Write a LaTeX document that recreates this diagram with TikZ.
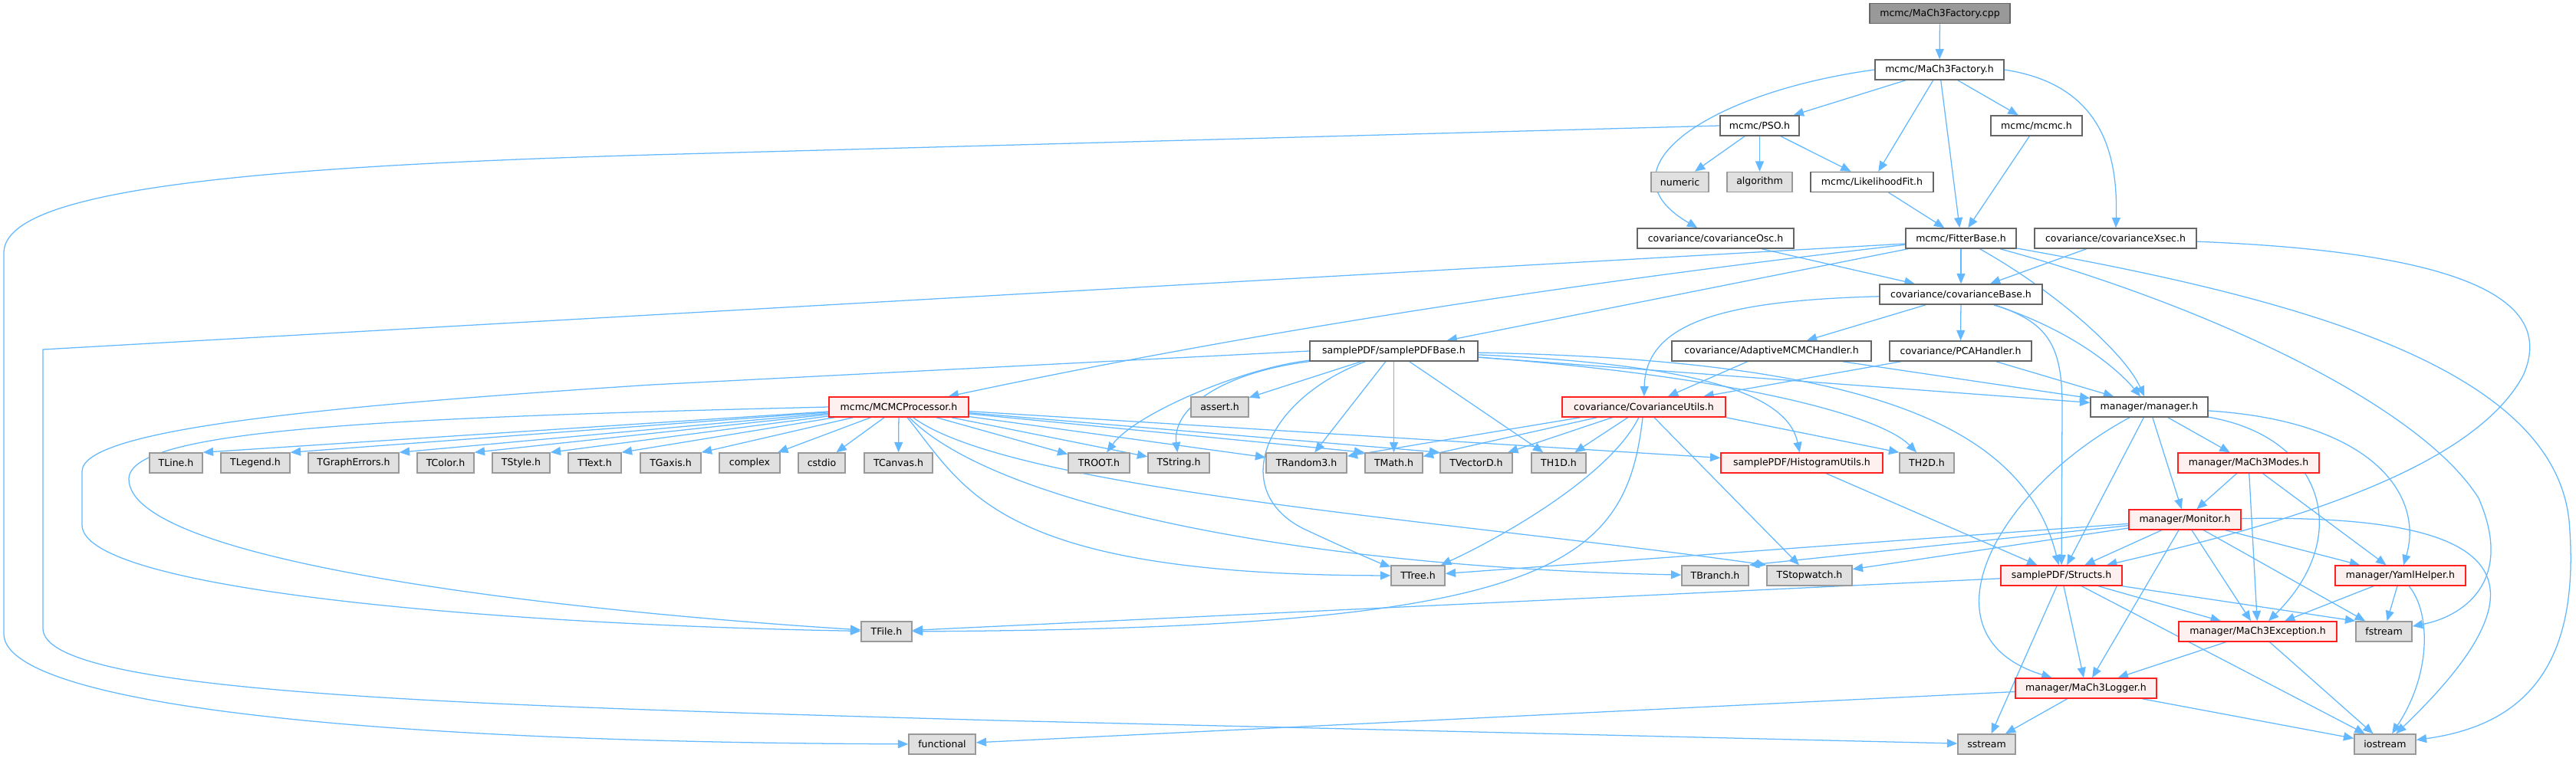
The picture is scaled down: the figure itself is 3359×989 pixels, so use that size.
\documentclass[tikz,border=0pt]{standalone}
\usepackage{fontspec}
\setmainfont{DejaVu Sans}
\usetikzlibrary{arrows.meta,calc}
\definecolor{edgec}{HTML}{63B8FF}
\definecolor{bordgray}{HTML}{666666}
\definecolor{rootgray}{HTML}{999999}
\definecolor{sysfill}{HTML}{E0E0E0}
\definecolor{sysborder}{HTML}{999999}
\definecolor{redb}{HTML}{FF2020}
\definecolor{redf}{HTML}{FFF0F0}
\pgfdeclarelayer{bg}
\pgfsetlayers{bg,main}
\begin{document}
\begin{tikzpicture}[x=0.03cm,y=-0.03cm,
  nb/.style={draw=bordgray, fill=white, line width=0.045cm, minimum height=0.78cm, inner sep=0pt, font=\fontsize{10.7pt}{12pt}\selectfont},
  rootbox/.style={nb, fill=rootgray},
  sysbox/.style={nb, draw=sysborder, fill=sysfill},
  redbox/.style={nb, draw=redb, fill=redf},
  wd/.style={minimum width=#1*0.03cm},
  conn/.style={draw=edgec, line width=0.038cm, -{Triangle[length=0.4cm,width=0.33cm]}}]
\useasboundingbox (0,0) rectangle (3359,989);
% row 0-1
\node[rootbox, wd=183] (cpp) at (2529.5,17.7) {mcmc/MaCh3Factory.cpp};
\node[nb, wd=168] (fh) at (2529,91) {mcmc/MaCh3Factory.h};
% row 2
\node[nb, wd=103] (pso) at (2294.5,164) {mcmc/PSO.h};
\node[nb, wd=119] (mcmch) at (2655.5,164) {mcmc/mcmc.h};
% row 3
\node[sysbox, wd=75] (numeric) at (2190.5,237.5) {numeric};
\node[sysbox, wd=85] (algo) at (2294.5,237.5) {algorithm};
\node[nb, wd=160] (lfit) at (2441,237.5) {mcmc/LikelihoodFit.h};
% row 4
\node[nb, wd=204] (osc) at (2237,311) {covariance/covarianceOsc.h};
\node[nb, wd=144] (fitter) at (2557,311) {mcmc/FitterBase.h};
\node[nb, wd=211] (xsec) at (2758.5,311) {covariance/covarianceXsec.h};
% row 5
\node[nb, wd=212] (cbase) at (2557,384) {covariance/covarianceBase.h};
% row 6
\node[nb, wd=219] (spbase) at (1817.5,458) {samplePDF/samplePDFBase.h};
\node[nb, wd=260] (adapt) at (2310,458) {covariance/AdaptiveMCMCHandler.h};
\node[nb, wd=185] (pca) at (2556.5,458) {covariance/PCAHandler.h};
% row 7
\node[redbox, wd=182] (mcmcp) at (1172,531) {mcmc/MCMCProcessor.h};
\node[sysbox, wd=75] (assert) at (1590.5,531) {assert.h};
\node[redbox, wd=213] (cutils) at (2143.5,531) {covariance/CovarianceUtils.h};
\node[nb, wd=153] (manager) at (2802.5,531) {manager/manager.h};
% row 8
\node[sysbox, wd=69] (tline) at (229.5,604) {TLine.h};
\node[sysbox, wd=90] (tlegend) at (333,604) {TLegend.h};
\node[sysbox, wd=118] (tgraph) at (461,604) {TGraphErrors.h};
\node[sysbox, wd=74] (tcolor) at (581,604) {TColor.h};
\node[sysbox, wd=75] (tstyle) at (679.5,604) {TStyle.h};
\node[sysbox, wd=69] (ttext) at (775.5,604) {TText.h};
\node[sysbox, wd=79] (tgaxis) at (874.5,604) {TGaxis.h};
\node[sysbox, wd=79] (complex) at (977.5,604) {complex};
\node[sysbox, wd=61] (cstdio) at (1071.5,604) {cstdio};
\node[sysbox, wd=89] (tcanvas) at (1171.5,604) {TCanvas.h};
\node[sysbox, wd=80] (troot) at (1433,604) {TROOT.h};
\node[sysbox, wd=80] (tstring) at (1537,604) {TString.h};
\node[sysbox, wd=105] (trandom) at (1703.5,604) {TRandom3.h};
\node[sysbox, wd=75] (tmath) at (1817.5,604) {TMath.h};
\node[sysbox, wd=94] (tvector) at (1925,604) {TVectorD.h};
\node[sysbox, wd=71] (th1d) at (2032.5,604) {TH1D.h};
\node[redbox, wd=211] (histu) at (2349.5,604) {samplePDF/HistogramUtils.h};
\node[sysbox, wd=71] (th2d) at (2512.5,604) {TH2D.h};
\node[redbox, wd=184] (modes) at (2932,604) {manager/MaCh3Modes.h};
% row 9
\node[redbox, wd=146] (monitor) at (2849,678) {manager/Monitor.h};
% row 10
\node[sysbox, wd=70] (ttree) at (1849,751) {TTree.h};
\node[sysbox, wd=87] (tbranch) at (2236.5,751) {TBranch.h};
\node[sysbox, wd=111] (tstop) at (2359.5,751) {TStopwatch.h};
\node[redbox, wd=158] (structs) at (2688,751) {samplePDF/Structs.h};
\node[redbox, wd=170] (yaml) at (3130,751) {manager/YamlHelper.h};
% row 11
\node[sysbox, wd=66] (tfile) at (1156,824) {TFile.h};
\node[redbox, wd=206] (exception) at (2944,824) {manager/MaCh3Exception.h};
\node[sysbox, wd=73] (fstream) at (3108.5,824) {fstream};
% row 12
\node[redbox, wd=184] (logger) at (2720,898) {manager/MaCh3Logger.h};
% row 13
\node[sysbox, wd=87] (functional) at (1228.5,971) {functional};
\node[sysbox, wd=75] (sstream) at (2590.5,971) {sstream};
\node[sysbox, wd=80] (iostream) at (3110,971) {iostream};

\begin{pgfonlayer}{bg}
% top part
\draw[conn] (cpp) -- (fh);
\draw[conn] (fh) -- (pso);
\draw[conn] (fh) -- (lfit);
\draw[conn] (fh) -- (fitter);
\draw[conn] (fh) -- (mcmch);
\draw[conn] (fh.east) .. controls (2740,110) and (2762,200) .. (xsec);
\draw[conn] (fh.west) .. controls (2230,120) and (2080,220) .. (osc);
\draw[conn] (pso) -- (numeric);
\draw[conn] (pso) -- (algo);
\draw[conn] (pso) -- (lfit);
\draw[conn] (pso.west) -- (850,202) .. controls (300,218) and (5,250) .. (5,330) -- (5,827) .. controls (5,910) and (400,968) .. (functional);
\draw[conn] (mcmch) -- (fitter);
\draw[conn] (lfit) -- (fitter);
% FitterBase
\draw[conn] ($(fitter.west)+(0,7)$) -- (56,456) -- (56,820) .. controls (56,905) and (600,920) .. (1300,940) -- (sstream);
\draw[conn] (fitter) .. controls (2000,375) and (1600,440) .. (mcmcp);
\draw[conn] (fitter) -- (spbase);
\draw[conn] (fitter) -- (cbase);
\draw[conn] (fitter) .. controls (2680,380) and (2770,460) .. (manager);
\draw[conn] (fitter) .. controls (2850,390) and (3150,520) .. (3232,650) .. controls (3280,760) and (3210,805) .. (fstream);
\draw[conn] (fitter) .. controls (3000,390) and (3330,480) .. (3350,680) .. controls (3365,860) and (3300,945) .. (iostream);
% covariance
\draw[conn] (xsec) -- (cbase);
\draw[conn] (xsec) .. controls (3240,330) and (3330,400) .. (3290,490) .. controls (3220,620) and (2950,690) .. (structs);
\draw[conn] (osc) -- (cbase);
\draw[conn] (cbase) .. controls (2250,392) and (2146,420) .. (cutils);
\draw[conn] (cbase) -- (adapt);
\draw[conn] (cbase) -- (pca);
\draw[conn] (cbase) .. controls (2700,430) and (2760,480) .. (manager);
\draw[conn] (cbase) .. controls (2670,420) and (2689,450) .. (2689,530) -- (structs);
\draw[conn] (adapt) -- (cutils);
\draw[conn] (adapt) -- (manager);
\draw[conn] (pca) -- (cutils);
\draw[conn] (pca) -- (manager);
% samplePDFBase
\draw[conn] (spbase.west) -- (850,502) .. controls (420,530) and (107,560) .. (107,615) -- (107,685) .. controls (107,770) and (650,815) .. (tfile);
\draw[conn] (spbase) .. controls (1620,480) and (1480,540) .. (troot);
\draw[conn] (spbase) .. controls (1600,485) and (1528,530) .. (tstring);
\draw[conn] (spbase) -- (assert);
\draw[conn] (spbase) .. controls (1650,520) and (1600,640) .. (1700,690) .. controls (1760,718) and (1800,735) .. (ttree);
\draw[conn] (spbase) -- (trandom);
\draw[conn] (spbase) -- (tmath);
\draw[conn] (spbase) -- (th1d);
\draw[conn] (spbase) .. controls (2200,475) and (2330,510) .. (histu);
\draw[conn] (spbase) .. controls (2250,490) and (2450,540) .. (th2d);
\draw[conn] (spbase) .. controls (2450,470) and (2640,560) .. (structs);
\draw[conn] (spbase) -- (manager);
% MCMCProcessor
\draw[conn] (mcmcp.west) .. controls (500,545) and (168,560) .. (168,625) .. controls (168,730) and (700,795) .. (tfile);
\draw[conn] (mcmcp) -- (tline.north east);
\draw[conn] (mcmcp) -- (tlegend.north east);
\draw[conn] (mcmcp) -- (tgraph.north east);
\draw[conn] (mcmcp) -- (tcolor.north east);
\draw[conn] (mcmcp) -- (tstyle.north east);
\draw[conn] (mcmcp) -- (ttext.north east);
\draw[conn] (mcmcp) -- (tgaxis.north east);
\draw[conn] (mcmcp) -- (complex);
\draw[conn] (mcmcp) -- (cstdio);
\draw[conn] (mcmcp) -- (tcanvas);
\draw[conn] (mcmcp) -- (troot);
\draw[conn] (mcmcp) -- (tstring);
\draw[conn] (mcmcp) -- (trandom);
\draw[conn] (mcmcp) -- (tmath.north west);
\draw[conn] (mcmcp) -- (tvector.north west);
\draw[conn] (mcmcp) -- (histu);
\draw[conn] (mcmcp) .. controls (1260,640) and (1300,750) .. (ttree);
\draw[conn] (mcmcp) .. controls (1300,660) and (1700,740) .. (tbranch);
\draw[conn] (mcmcp) .. controls (1320,640) and (1900,680) .. (tstop.north west);
% CovarianceUtils
\draw[conn] (cutils) -- (trandom);
\draw[conn] (cutils) -- (tmath);
\draw[conn] (cutils) -- (tvector);
\draw[conn] (cutils) -- (th1d);
\draw[conn] (cutils.south east) -- (th2d.north west);
\draw[conn] (cutils) -- (tstop);
\draw[conn] (cutils) .. controls (2100,620) and (1960,700) .. (ttree);
\draw[conn] (cutils) .. controls (2120,740) and (2020,820) .. (tfile);
\draw[conn] (histu) -- (structs);
% manager
\draw[conn] (manager) -- (modes);
\draw[conn] (manager) -- (monitor);
\draw[conn] (manager) -- (structs);
\draw[conn] (manager) .. controls (2600,640) and (2500,830) .. (logger);
\draw[conn] (manager) .. controls (3030,570) and (3070,700) .. (exception);
\draw[conn] (manager) .. controls (3100,550) and (3160,650) .. (yaml);
\draw[conn] (modes) -- (monitor);
\draw[conn] (modes) -- (exception);
\draw[conn] (modes) -- (yaml);
% Monitor
\draw[conn] (monitor) -- (structs);
\draw[conn] (monitor) -- (logger);
\draw[conn] (monitor) -- (exception);
\draw[conn] (monitor) -- (fstream);
\draw[conn] (monitor) -- (yaml);
\draw[conn] (monitor) .. controls (3280,670) and (3330,760) .. (iostream);
\draw[conn] (monitor) -- (ttree);
\draw[conn] (monitor) -- (tbranch.north east);
\draw[conn] (monitor) -- (tstop);
% Structs
\draw[conn] (structs) -- (tfile);
\draw[conn] (structs) -- (sstream);
\draw[conn] (structs) -- (logger);
\draw[conn] (structs) -- (iostream);
\draw[conn] (structs) -- (exception);
\draw[conn] (structs.south east) -- (fstream.north west);
% YamlHelper, Exception, Logger
\draw[conn] (yaml) -- (exception);
\draw[conn] (yaml) -- (fstream);
\draw[conn] (yaml) .. controls (3170,800) and (3170,880) .. (iostream);
\draw[conn] (exception) -- (logger);
\draw[conn] (exception) -- (iostream);
\draw[conn] (logger) -- (sstream);
\draw[conn] (logger) -- (iostream);
\draw[conn] (logger) -- (functional);
\end{pgfonlayer}
\end{tikzpicture}
\end{document}
